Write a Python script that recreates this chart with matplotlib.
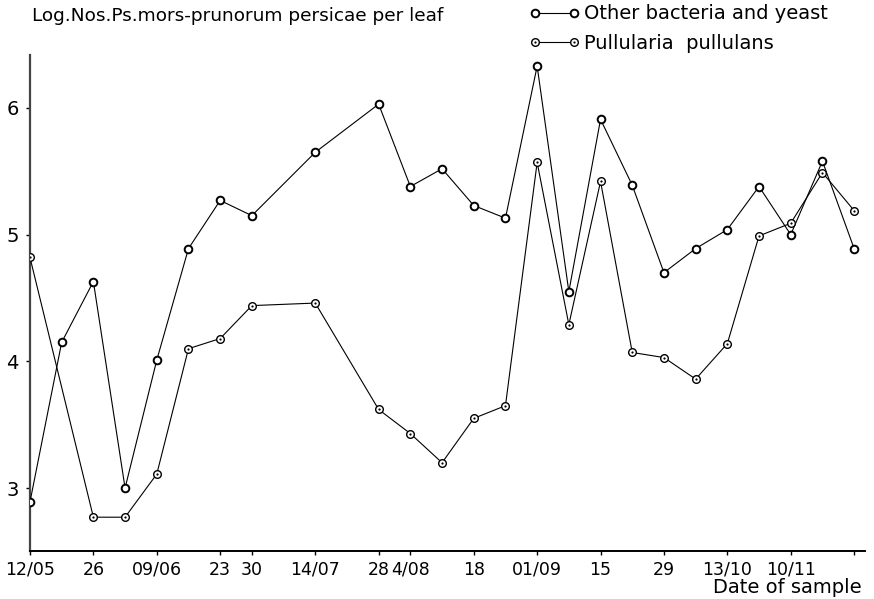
import matplotlib
matplotlib.use("Agg")
import matplotlib.pyplot as plt

# days after the first sample (12 May)
days_other = [0, 7, 14, 21, 28, 35, 42, 49, 63, 77, 84, 91, 98, 105, 112,
              119, 126, 133, 140, 147, 154, 161, 168, 175, 182]
other = [2.89, 4.15, 4.63, 3.00, 4.01, 4.89, 5.27, 5.15, 5.65, 6.03, 5.38,
         5.52, 5.23, 5.13, 6.33, 4.55, 5.91, 5.39, 4.70, 4.89, 5.04, 5.38,
         5.00, 5.58, 4.89]

days_pull = [0, 14, 21, 28, 35, 42, 49, 63, 77, 84, 91, 98, 105, 112,
             119, 126, 133, 140, 147, 154, 161, 168, 175, 182]
pullularia = [4.82, 2.77, 2.77, 3.11, 4.10, 4.18, 4.44, 4.46, 3.62, 3.43,
              3.20, 3.55, 3.65, 5.57, 4.29, 5.42, 4.07, 4.03, 3.86, 4.14,
              4.99, 5.09, 5.49, 5.19]

tick_days = [0, 14, 28, 42, 49, 63, 77, 84, 98, 112, 126, 140, 154, 168, 182]
tick_labels = ["12/05", "26", "09/06", "23", "30", "14/07", "28", "4/08",
               "18", "01/09", "15", "29", "13/10", "10/11", ""]

plt.rcParams["font.family"] = "DejaVu Sans"

fig = plt.figure(figsize=(8.74, 5.99), dpi=100)
ax = fig.add_axes([0.0343, 0.0801, 0.9554, 0.8281])

la, = ax.plot(days_other, other, color="black", lw=0.8, marker="o",
              ms=5.5, mfc="white", mec="black", mew=1.4, zorder=3)
lb, = ax.plot(days_pull, pullularia, color="black", lw=0.8, marker="o",
              ms=5.5, mfc="white", mec="black", mew=1.0, zorder=3)
# centre dot for the Pullularia symbol
lb_dot, = ax.plot(days_pull, pullularia, ls="none", marker="o", ms=1.6,
                  mfc="black", mec="black", mew=0, zorder=4)

ax.set_xlim(0, 184.4)
ax.set_ylim(2.503, 6.418)

ax.set_xticks(tick_days)
ax.set_xticklabels(tick_labels, fontsize=12.5)
ax.set_yticks([3, 4, 5, 6])
ax.set_yticklabels(["3", "4", "5", "6"], fontsize=14)
ax.tick_params(axis="x", direction="out", length=3, width=1, pad=4)
ax.tick_params(axis="y", direction="out", length=3, width=1, pad=5)

for side in ("top", "right"):
    ax.spines[side].set_visible(False)
ax.spines["left"].set_linewidth(1.6)
ax.spines["left"].set_color("#444444")
ax.spines["bottom"].set_linewidth(1.4)

fig.text(0.037, 0.974, "Log.Nos.Ps.mors-prunorum persicae per leaf",
         fontsize=13.3, ha="left", va="center")
fig.text(0.986, 0.019, "Date of sample", fontsize=14, ha="right",
         va="center")

fig.legend(handles=[la, (lb, lb_dot)],
           labels=["Other bacteria and yeast", "Pullularia  pullulans"],
           loc="upper left", bbox_to_anchor=(0.585, 1.022), frameon=False,
           numpoints=2, handlelength=2.6, handletextpad=0.25,
           labelspacing=0.55, fontsize=14)

fig.savefig("out.png", dpi=100)
